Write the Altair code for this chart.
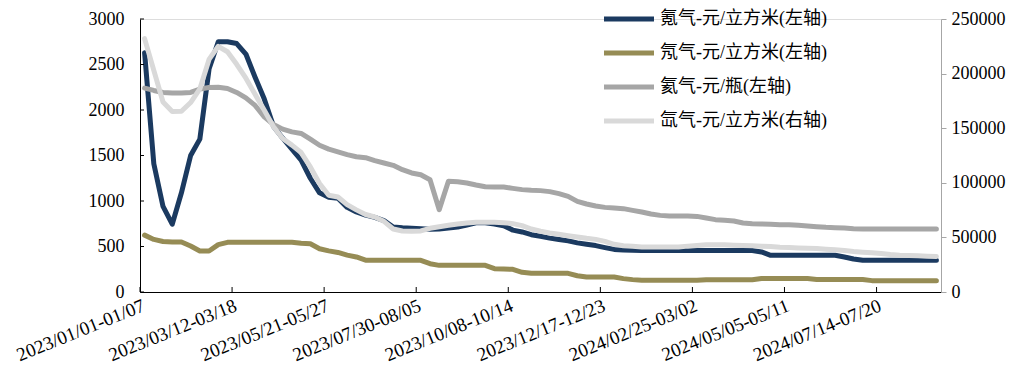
import altair as alt
import pandas as pd

# ---- data -------------------------------------------------------------
START = "2023-01-01"
N_WEEKS = 87

SERIES = ["氪气-元/立方米(左轴)", "氖气-元/立方米(左轴)", "氦气-元/瓶(左轴)", "氙气-元/立方米(右轴)"]
COLORS = ["#1B3A60", "#968C55", "#A6A6A6", "#D9D9D9"]

krypton = [2630, 1410, 940, 745, 1090, 1500, 1680, 2450, 2750, 2750,
           2730, 2615, 2360, 2120, 1820, 1690, 1570, 1450, 1250, 1090,
           1040, 1030, 930, 880, 845, 820, 785, 715, 705, 700,
           696, 690, 692, 703, 714, 736, 760, 760, 748, 728,
           680, 660, 630, 612, 592, 576, 562, 540, 525, 510,
           488, 468, 462, 458, 455, 455, 455, 455, 455, 455,
           455, 455, 455, 455, 455, 455, 455, 440, 403, 403,
           403, 403, 403, 403, 403, 403, 385, 362, 348, 348,
           348, 348, 348, 348, 348, 348, 348]

neon = [625, 578, 555, 550, 550, 505, 450, 450, 520, 546,
        546, 546, 546, 546, 546, 546, 546, 535, 530, 475,
        452, 435, 405, 385, 350, 348, 348, 348, 348, 348,
        348, 311, 293, 293, 293, 293, 293, 293, 256, 253,
        249, 216, 205, 205, 205, 205, 205, 179, 165, 165,
        165, 165, 147, 136, 128, 128, 128, 128, 128, 128,
        128, 135, 135, 135, 135, 135, 135, 148, 148, 148,
        148, 148, 148, 138, 138, 138, 138, 138, 138, 125,
        125, 125, 125, 125, 125, 125, 125]

helium = [2240, 2215, 2193, 2186, 2186, 2193, 2230, 2248, 2250, 2237,
          2193, 2134, 2050, 1925, 1841, 1790, 1760, 1742, 1680, 1613,
          1570, 1540, 1509, 1487, 1476, 1443, 1418, 1392, 1344, 1308,
          1289, 1234, 905, 1216, 1212, 1198, 1176, 1157, 1154, 1154,
          1139, 1125, 1117, 1114, 1103, 1081, 1051, 996, 967, 945,
          930, 923, 916, 897, 879, 857, 842, 836, 835, 835,
          831, 813, 795, 788, 780, 758, 751, 747, 744, 740,
          740, 733, 725, 718, 711, 707, 703, 696, 692, 692,
          692, 692, 692, 692, 692, 692, 692]

xenon = [232000, 203000, 174000, 165300, 165500, 173500, 186000, 213000, 225000, 220000,
         208500, 195800, 181000, 166500, 151300, 140600, 134500, 127700, 114600, 99300,
         88600, 87000, 80000, 75200, 71000, 68700, 64700, 57700, 55900, 55600,
         55900, 58300, 59800, 61100, 62300, 63200, 63800, 63800, 63800, 63500,
         62600, 60800, 57700, 55600, 54000, 52800, 51600, 50400, 49200, 48200,
         46400, 43700, 42400, 41800, 41200, 41200, 41200, 41200, 41200, 42000,
         42600, 43200, 43200, 43200, 42900, 42600, 42300, 42000, 41600, 41000,
         40700, 40400, 40100, 39800, 39200, 38600, 38000, 37100, 36500, 35900,
         35300, 34400, 33700, 33400, 33100, 32800, 32500]

TICK_LABELS = ["2023/01/01-01/07", "2023/03/12-03/18", "2023/05/21-05/27",
               "2023/07/30-08/05", "2023/10/08-10/14", "2023/12/17-12/23",
               "2024/02/25-03/02", "2024/05/05-05/11", "2024/07/14-07/20"]
LEFT_TICKS = [0, 500, 1000, 1500, 2000, 2500, 3000]
RIGHT_TICKS = [0, 50000, 100000, 150000, 200000, 250000]

# ---- tables ------------------------------------------------------------
starts = pd.date_range(START, periods=N_WEEKS, freq="7D")
weeks = [f"{s:%Y/%m/%d}-{(s + pd.Timedelta(days=6)):%m/%d}" for s in starts]
idx = list(range(N_WEEKS))

left_df = pd.concat([
    pd.DataFrame({"i": idx, "week": weeks, "v": vals, "s": name})
    for name, vals in zip(SERIES[:3], [krypton, neon, helium])
])
right_df = pd.DataFrame({"i": idx, "week": weeks, "v": xenon, "s": SERIES[3]})
xtick_df = pd.DataFrame({"t": [10 * k - 0.5 for k in range(len(TICK_LABELS))]})
ytick_df = pd.DataFrame({"t": LEFT_TICKS})

FONT = "Liberation Serif, Noto Sans CJK SC"
W, H = 801, 273

label_arr = "[" + ",".join(f"'{t}'" for t in TICK_LABELS) + "]"
x_scale = alt.Scale(domain=[-0.5, N_WEEKS - 0.5], nice=False, zero=False)
x_axis = alt.Axis(values=[10 * k - 0.5 for k in range(len(TICK_LABELS))],
                  labelExpr=f"{label_arr}[round((datum.value + 0.5) / 10)]",
                  labelAngle=-22, labelAlign="right", labelBaseline="top",
                  labelPadding=4, ticks=False, grid=False, title=None,
                  domainColor="#000000", labelFontSize=19, labelFont=FONT,
                  labelColor="#000000", labelOverlap=False, labelFlush=False)
yl_scale = alt.Scale(domain=[0, 3000], nice=False)
yl_axis = alt.Axis(values=LEFT_TICKS, orient="left", ticks=False, grid=False,
                   title=None, labelPadding=16, domainColor="#000000", format="d",
                   labelFontSize=18, labelFont=FONT, labelColor="#000000")
yr_scale = alt.Scale(domain=[0, 250000], nice=False)
yr_axis = alt.Axis(values=RIGHT_TICKS, orient="right", grid=False, title=None,
                   tickSize=5, tickColor="#A6A6A6", domainColor="#A6A6A6", format="d",
                   labelPadding=5, labelFontSize=18, labelFont=FONT,
                   labelColor="#000000")

color = alt.Color("s:N", title=None,
                  scale=alt.Scale(domain=SERIES, range=COLORS),
                  sort=SERIES,
                  legend=alt.Legend(orient="none", legendX=480, legendY=-9,
                                    direction="vertical", symbolType="M-5,0H5",
                                    symbolSize=100, symbolStrokeWidth=5,
                                    rowPadding=14, labelOffset=22, labelLimit=0,
                                    labelFontSize=18, labelFont=FONT,
                                    labelColor="#000000", padding=0))

line_style = dict(strokeWidth=5, strokeJoin="round", strokeCap="round")

left_lines = alt.Chart(left_df).mark_line(**line_style).encode(
    x=alt.X("i:Q", scale=x_scale, axis=x_axis),
    y=alt.Y("v:Q", scale=yl_scale, axis=yl_axis),
    color=color,
    order=alt.Order("i:Q"),
    detail="s:N",
)
left_ticks = alt.Chart(ytick_df).mark_rule(color="#000000", strokeWidth=1).encode(
    y=alt.Y("t:Q", scale=yl_scale, axis=yl_axis),
    x=alt.value(0), x2=alt.value(4),
)
x_ticks = alt.Chart(xtick_df).mark_rule(color="#000000", strokeWidth=1).encode(
    x=alt.X("t:Q", scale=x_scale, axis=x_axis),
    y=alt.value(H), y2=alt.value(H - 5),
)
left = alt.layer(left_lines, left_ticks, x_ticks)

right = alt.Chart(right_df).mark_line(**line_style).encode(
    x=alt.X("i:Q", scale=x_scale, axis=x_axis),
    y=alt.Y("v:Q", scale=yr_scale, axis=yr_axis),
    color=color,
    order=alt.Order("i:Q"),
)

chart = alt.layer(left, right).resolve_scale(y="independent").properties(
    width=W, height=H,
    autosize=alt.AutoSizeParams(type="none"),
    padding={"left": 140, "top": 19, "right": 1032 - 140 - W, "bottom": 365 - 19 - H},
).configure_view(stroke=None).configure(background="#ffffff")

chart.save("out.html", embed_options={"renderer": "svg", "actions": False})
